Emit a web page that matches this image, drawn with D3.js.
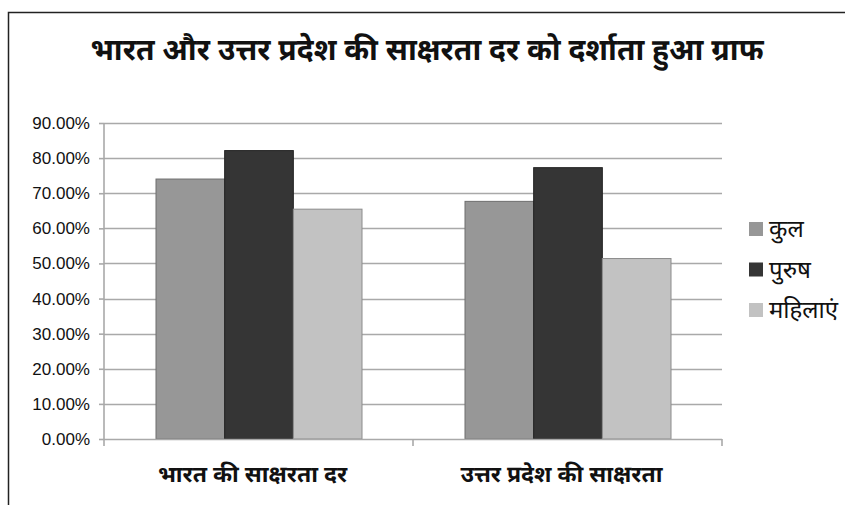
<!DOCTYPE html>
<html>
<head>
<meta charset="utf-8">
<script src="https://cdn.jsdelivr.net/npm/d3@7/dist/d3.min.js"></script>
<style>
  html, body { margin: 0; padding: 0; background: #fff; }
  svg { display: block; }
  .deva { font-family: "Noto Sans Devanagari", "Lohit Devanagari", "Noto Sans", "FreeSans", sans-serif; }
</style>
</head>
<body>
<svg id="chart" width="845" height="505"></svg>
<script>
// Literacy rates (fraction) for India and Uttar Pradesh
const categories = ["भारत की साक्षरता दर", "उत्तर प्रदेश की साक्षरता"];
const seriesNames = ["कुल", "पुरुष", "महिलाएं"];
const totalRate  = [0.7404, 0.6768];
const maleRate   = [0.8214, 0.7728];
const femaleRate = [0.6546, 0.5140];
const yTicks = [0, 0.1, 0.2, 0.3, 0.4, 0.5, 0.6, 0.7, 0.8, 0.9];
const titleText = "भारत और उत्तर प्रदेश की साक्षरता दर को दर्शाता हुआ ग्राफ";

const seriesValues = [totalRate, maleRate, femaleRate];
const fills   = ["#979797", "#353535", "#c2c2c2"];
const strokes = ["#6e6e6e", "#222222", "#8c8c8c"];

const svg = d3.select("#chart");

// outer chart frame (continues past the right and bottom edges)
svg.append("path")
  .attr("d", "M8.5,520 V12.5 H860")
  .attr("fill", "none")
  .attr("stroke", "#222")
  .attr("stroke-width", 1.5);

const plot = { left: 104, right: 722, top: 123, bottom: 439 };

const x0 = d3.scaleBand().domain(d3.range(categories.length))
  .range([plot.left, plot.right]);
// 150% gap width: each bar is band / 4.5, with 0.75 bar of space on each side
const x1 = d3.scaleBand().domain(d3.range(seriesNames.length))
  .range([0, x0.bandwidth()]).paddingInner(0).paddingOuter(0.75);
const y = d3.scaleLinear().domain([0, 0.9]).range([plot.bottom, plot.top]);

// gridlines
svg.append("g")
  .selectAll("line").data(yTicks.filter(d => d > 0)).join("line")
  .attr("x1", plot.left).attr("x2", plot.right)
  .attr("y1", d => Math.round(y(d)) + 0.5).attr("y2", d => Math.round(y(d)) + 0.5)
  .attr("stroke", "#a9a9a9").attr("stroke-width", 1.6);

// y axis
const yAxis = svg.append("g")
  .attr("transform", `translate(${plot.left},0)`)
  .call(d3.axisLeft(y).tickValues(yTicks).tickFormat(d3.format(".2%")).tickSize(5).tickPadding(9));
yAxis.select(".domain").attr("stroke", "#a9a9a9").attr("stroke-width", 1.6)
  .attr("d", `M0,${plot.top}V${plot.bottom}`);
yAxis.selectAll(".tick line").attr("stroke", "#a9a9a9").attr("stroke-width", 1.6);
yAxis.selectAll(".tick text")
  .attr("font-family", "'Liberation Sans', Arial, sans-serif")
  .attr("font-size", 17).attr("fill", "#111");

// bars
const groups = svg.append("g").selectAll("g").data(categories).join("g")
  .attr("transform", (d, i) => `translate(${x0(i)},0)`);
groups.selectAll("rect")
  .data((d, i) => seriesValues.map((vals, s) => ({ s, v: vals[i] })))
  .join("rect")
  .attr("x", d => x1(d.s) + 0.5)
  .attr("width", x1.bandwidth())
  .attr("y", d => y(d.v))
  .attr("height", d => y(0) - y(d.v))
  .attr("fill", d => fills[d.s])
  .attr("stroke", d => strokes[d.s])
  .attr("stroke-width", 1);

// category axis
const xAxis = svg.append("g").attr("transform", `translate(0,${plot.bottom})`);
xAxis.append("line")
  .attr("x1", plot.left).attr("x2", plot.right)
  .attr("y1", 0.5).attr("y2", 0.5)
  .attr("stroke", "#a9a9a9").attr("stroke-width", 1.6);
xAxis.selectAll("line.tick").data(d3.range(categories.length + 1)).join("line")
  .attr("class", "tick")
  .attr("x1", i => plot.left + i * x0.bandwidth()).attr("x2", i => plot.left + i * x0.bandwidth())
  .attr("y1", 0).attr("y2", 7)
  .attr("stroke", "#a9a9a9").attr("stroke-width", 1.6);
xAxis.selectAll("text").data(categories).join("text")
  .attr("class", "deva")
  .attr("x", (d, i) => x0(i) + x0.bandwidth() / 2 - 6)
  .attr("y", 43)
  .attr("text-anchor", "middle")
  .attr("font-size", 23).attr("font-weight", "bold").attr("fill", "#111")
  .text(d => d);

// title
svg.append("text")
  .attr("class", "deva")
  .attr("x", 427).attr("y", 60)
  .attr("text-anchor", "middle")
  .attr("font-size", 30).attr("font-weight", "bold").attr("fill", "#111")
  .text(titleText);

// legend
const legend = svg.append("g").selectAll("g").data(seriesNames).join("g")
  .attr("transform", (d, i) => `translate(749,${229 + i * 40.5})`);
legend.append("rect")
  .attr("x", 0).attr("y", -7).attr("width", 14).attr("height", 14)
  .attr("fill", (d, i) => fills[i]);
legend.append("text")
  .attr("class", "deva")
  .attr("x", 20).attr("y", 8)
  .attr("font-size", 24).attr("fill", "#111")
  .text(d => d);
</script>
</body>
</html>
